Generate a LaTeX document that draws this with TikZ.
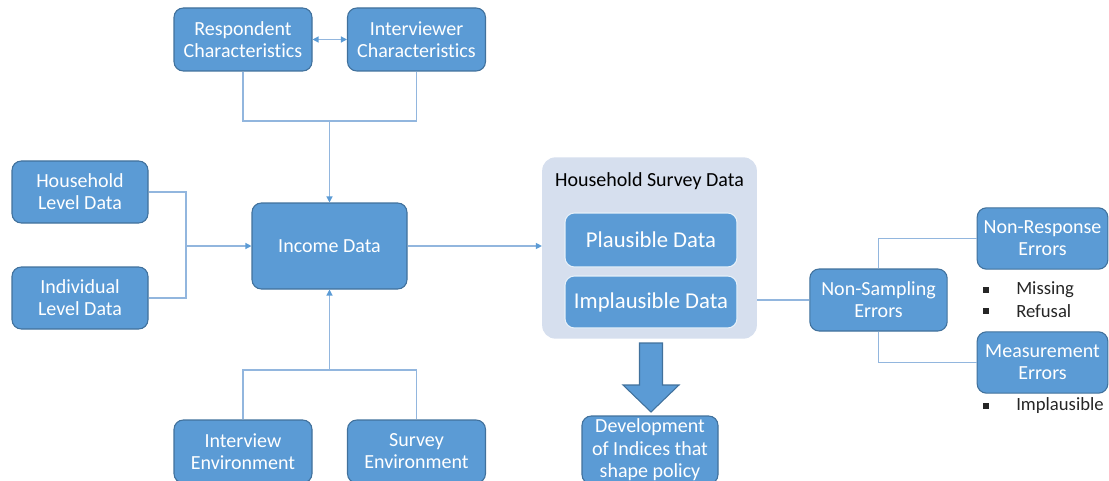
\documentclass[tikz,border=0pt]{standalone}
\usepackage{fontspec}
\setmainfont{Carlito}[Ligatures=NoCommon]
\usepackage{tikz}
\usetikzlibrary{arrows.meta}

\definecolor{boxblue}{RGB}{91,155,213}
\definecolor{boxedge}{RGB}{65,113,156}
\definecolor{linkblue}{RGB}{146,182,222}
\definecolor{panelgray}{RGB}{214,223,238}

\tikzset{
  blockbox/.style={draw=boxedge, fill=boxblue, rounded corners=7pt, line width=0.8pt, text=white, align=center, inner sep=0pt, font=\fontsize{15}{16.5}\selectfont},
  innerbox/.style={blockbox, draw=white!85!boxblue, font=\fontsize{17}{19}\selectfont},
  link/.style={draw=linkblue, line width=0.9pt},
  linkarrow/.style={link, -{Triangle[length=4.5pt,width=4.5pt,color=boxblue]}},
  bulletsq/.style={fill=black!85, minimum size=4.3pt, inner sep=0pt},
  bullettext/.style={anchor=west, inner sep=0pt, text=black!85, font=\fontsize{14}{16}\selectfont},
}

\begin{document}
\begin{tikzpicture}[x=0.75pt,y=0.75pt,yscale=-1,xscale=1]
\useasboundingbox (0,0) rectangle (1109,481);

%Outer panel
\node [fill=panelgray, rounded corners=10pt, minimum width=161pt, minimum height=136pt, inner sep=0pt] (panel) at (649.5,248) {};
% Text Node
\node [font=\fontsize{15}{17}\selectfont, inner sep=0pt] (paneltitle) at (649.5,181) {Household Survey Data};
\node [innerbox, minimum width=129pt, minimum height=40.5pt] (plaus) at (651,240) {Plausible Data};
\node [innerbox, minimum width=129pt, minimum height=39pt] (implaus) at (651,302) {Implausible Data};

%Boxes
\node [blockbox, minimum width=103.5pt, minimum height=47.25pt] (resp) at (243,39.5) {Respondent\\Characteristics};
\node [blockbox, minimum width=103.5pt, minimum height=47.25pt] (intv) at (416.5,39.5) {Interviewer\\Characteristics};
\node [blockbox, minimum width=102pt, minimum height=46.5pt] (hhold) at (80,192) {Household\\Level Data};
\node [blockbox, minimum width=102pt, minimum height=46.5pt] (indiv) at (80,298) {Individual\\Level Data};
\node [blockbox, minimum width=116.25pt, minimum height=64.5pt] (income) at (329.5,246) {Income Data};
\node [blockbox, minimum width=103.5pt, minimum height=47.25pt] (intenv) at (243,451.5) {Interview\\Environment};
\node [blockbox, minimum width=103.5pt, minimum height=47.25pt] (survenv) at (416.5,451.5) {Survey\\Environment};
\node [blockbox, minimum width=102pt, minimum height=51pt, font=\fontsize{15}{16.8}\selectfont] (dev) at (650,450) {Development\\of Indices that\\shape policy};
\node [blockbox, minimum width=103pt, minimum height=46.5pt] (nonsamp) at (878.5,300) {Non-Sampling\\Errors};
\node [blockbox, minimum width=98pt, minimum height=46pt] (nonresp) at (1042.5,238.5) {Non-Response\\Errors};
\node [blockbox, minimum width=98pt, minimum height=46pt] (measure) at (1042.5,362.5) {Measurement\\Errors};

%Bullets
\node [bulletsq] (missb) at (986,290) {};
\node [bullettext] (miss) at (1016,290) {Missing};
\node [bulletsq] (refb) at (986,311) {};
\node [bullettext] (ref) at (1016,311) {Refusal};
\node [bulletsq] (implb) at (986,406) {};
\node [bullettext] (impl) at (1016,406) {Implausible};

%Joins
\coordinate (topjoin) at (329.5,121);
\coordinate (leftjoin) at (186,246);
\coordinate (botjoin) at (329.5,370);

%Connectors
\draw [link, {Triangle[length=4.5pt,width=4.5pt,color=boxblue]}-{Triangle[length=4.5pt,width=4.5pt,color=boxblue]}] (resp.east) -- (intv.west);
\draw [link] (resp.south) |- (topjoin) -| (intv.south);
\draw [linkarrow] (topjoin) -- (income.north);
\draw [link] (hhold.east) -| (leftjoin) |- (indiv.east);
\draw [linkarrow] (leftjoin) -- (income.west);
\draw [link] (intenv.north) |- (botjoin) -| (survenv.north);
\draw [linkarrow] (botjoin) -- (income.south);
\draw [linkarrow] (income.east) -- (income.east -| panel.west);
\draw [link] (nonsamp.west) -- (nonsamp.west -| panel.east);
\draw [link] (nonsamp.north) |- (nonresp.west);
\draw [link] (nonsamp.south) |- (measure.west);

%Block arrow
\draw [draw=boxedge, fill=boxblue, line width=0.8pt] (639.5,343) -- (662.5,343) -- (662.5,385) -- (679,385) -- (651,412) -- (623,385) -- (639.5,385) -- cycle;

\end{tikzpicture}
\end{document}
